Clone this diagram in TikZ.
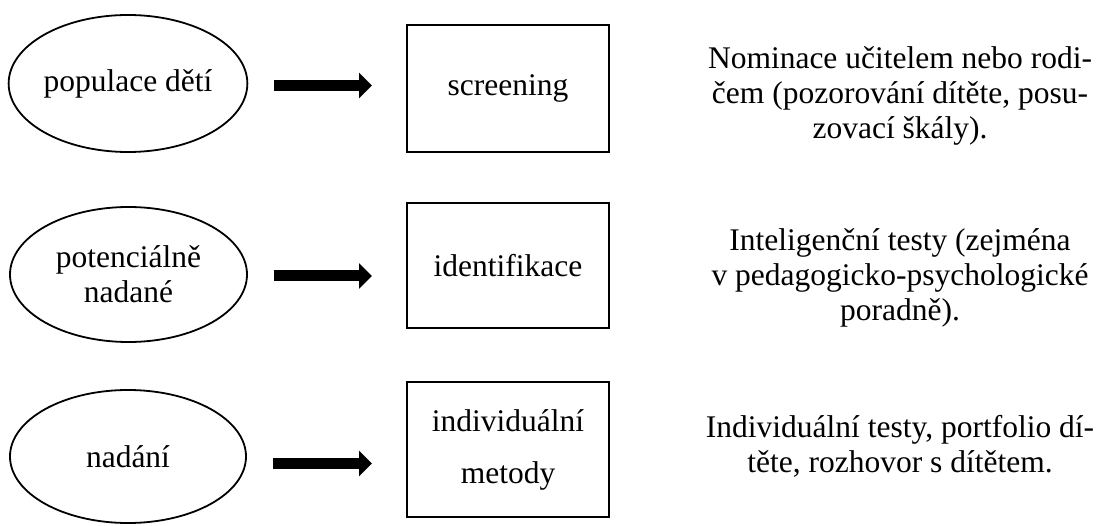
\documentclass[tikz,border=0pt]{standalone}
\usepackage{fontspec}
\setmainfont{Liberation Serif}
\usetikzlibrary{shapes.geometric,arrows.meta}
\tikzset{
  oval/.style={draw, line width=1.8pt, ellipse, inner sep=0pt, align=center,
    font=\fontsize{31.5}{35}\selectfont},
  stepbox/.style={draw, line width=2pt, rectangle, inner sep=0pt, align=center,
    minimum width=202pt, font=\fontsize{31.5}{35}\selectfont},
  desc/.style={align=center, inner sep=0pt, font=\fontsize{31.5}{35}\selectfont},
  bigarrow/.style={line width=11pt, -{Triangle[length=13pt,width=25pt]},
    shorten <=26pt, shorten >=34pt}
}
\begin{document}
\begin{tikzpicture}[x=1pt,y=-1pt]
\useasboundingbox (0,0) rectangle (1099,526);
% ovals
\node[oval, minimum width=236pt, minimum height=137pt] (e1) at (128,83.5) {populace dětí};
\node[oval, minimum width=237pt, minimum height=135pt] (e2) at (128.5,274.5) {potenciálně\\nadané};
\node[oval, minimum width=236pt, minimum height=133pt] (e3) at (128,456.5) {nadání};
% boxes
\node[stepbox, minimum height=127pt] (b1) at (508,88.5) {screening};
\node[stepbox, minimum height=125pt] (b2) at (508,265.5) {identifikace};
\node[stepbox, minimum height=135pt, font=\fontsize{31.5}{52}\selectfont] (b3) at (508,449.5) {individuální\\metody};
% arrows
\draw[bigarrow] ([yshift=-2pt]e1.east) -- ([yshift=-2pt]e1.east -| b1.west);
\draw[bigarrow] ([yshift=-1.5pt]e2.east) -- ([yshift=-1.5pt]e2.east -| b2.west);
\draw[bigarrow] ([yshift=-7pt]e3.east) -- ([yshift=-7pt]e3.east -| b3.west);
% descriptions
\node[desc] (d1) at (900,96) {Nominace učitelem nebo rodi-\\čem (pozorování dítěte, posu-\\zovací škály).};
\node[desc] (d2) at (900,277.5) {Inteligenční testy (zejména\\v pedagogicko-psychologické\\poradně).};
\node[desc] (d3) at (900,446.5) {Individuální testy, portfolio dí-\\těte, rozhovor s dítětem.};
\end{tikzpicture}
\end{document}
